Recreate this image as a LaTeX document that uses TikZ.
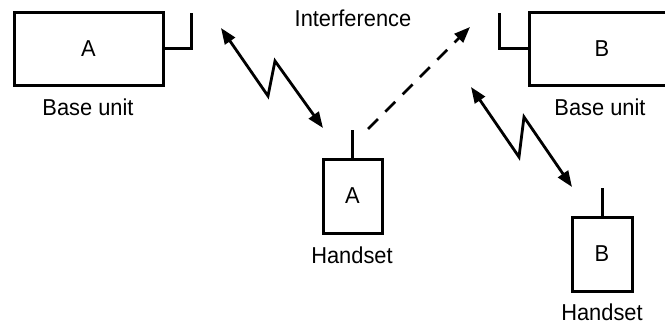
\documentclass[tikz,border=0pt]{standalone}
\usepackage{fontspec}
\setmainfont{Liberation Sans}[FakeStretch=0.95]
\usetikzlibrary{arrows.meta}
\begin{document}
\begin{tikzpicture}[x=1pt,y=-1pt,
  unitbox/.style={draw, line width=3pt, inner sep=0pt, font=\fontsize{23}{26}\selectfont},
  lbl/.style={font=\fontsize{23}{26}\selectfont, inner sep=0pt},
  ant/.style={line width=3pt},
  radio/.style={line width=2.8pt, {Triangle[length=16pt,width=12pt]}-{Triangle[length=16pt,width=12pt]}},
  interf/.style={line width=2.8pt, dash pattern=on 14pt off 10.5pt, -{Triangle[length=16pt,width=12pt]}}]
\useasboundingbox (0,0) rectangle (665,324);
\clip (0,0) rectangle (665,324);
% base units
\node[unitbox, minimum width=149pt, minimum height=73pt] (baseA) at (88.5,48.5) {A};
\node[unitbox, minimum width=146pt, minimum height=73pt] (baseB) at (602,48.5) {B};
\node[lbl] (baseAl) at (88,107) {Base unit};
\node[lbl] (baseBl) at (600,107) {Base unit};
% base antennas
\coordinate (antAtop) at (191,13);
\coordinate (antBtop) at (499,13);
\draw[ant] (baseA.east) -- (antAtop |- baseA.east) -- (antAtop);
\draw[ant] (baseB.west) -- (antBtop |- baseB.west) -- (antBtop);
% handsets
\node[unitbox, minimum width=59pt, minimum height=74pt] (handA) at (352.5,196) {A};
\node[unitbox, minimum width=60pt, minimum height=74pt] (handB) at (602,254) {B};
\node[lbl] (handAl) at (352,255) {Handset};
\node[lbl] (handBl) at (602,312) {Handset};
\coordinate (hantA) at (352.5,130);
\coordinate (hantB) at (602,188);
\draw[ant] (handA.north) -- (hantA);
\draw[ant] (handB.north) -- (hantB);
% interference label
\node[lbl] (intl) at (353,18) {Interference};
% radio links
\coordinate (zA1) at (221,28);
\coordinate (zA2) at (268,96);
\coordinate (zA3) at (275,61);
\coordinate (zA4) at (323,128);
\draw[radio] (zA1) -- (zA2) -- (zA3) -- (zA4);
\coordinate (zB1) at (471,87);
\coordinate (zB2) at (519,157);
\coordinate (zB3) at (524,117);
\coordinate (zB4) at (572,187);
\draw[radio] (zB1) -- (zB2) -- (zB3) -- (zB4);
% interference
\coordinate (iS) at (368,129);
\coordinate (iE) at (470,27);
\draw[interf] (iS) -- (iE);
\end{tikzpicture}
\end{document}
